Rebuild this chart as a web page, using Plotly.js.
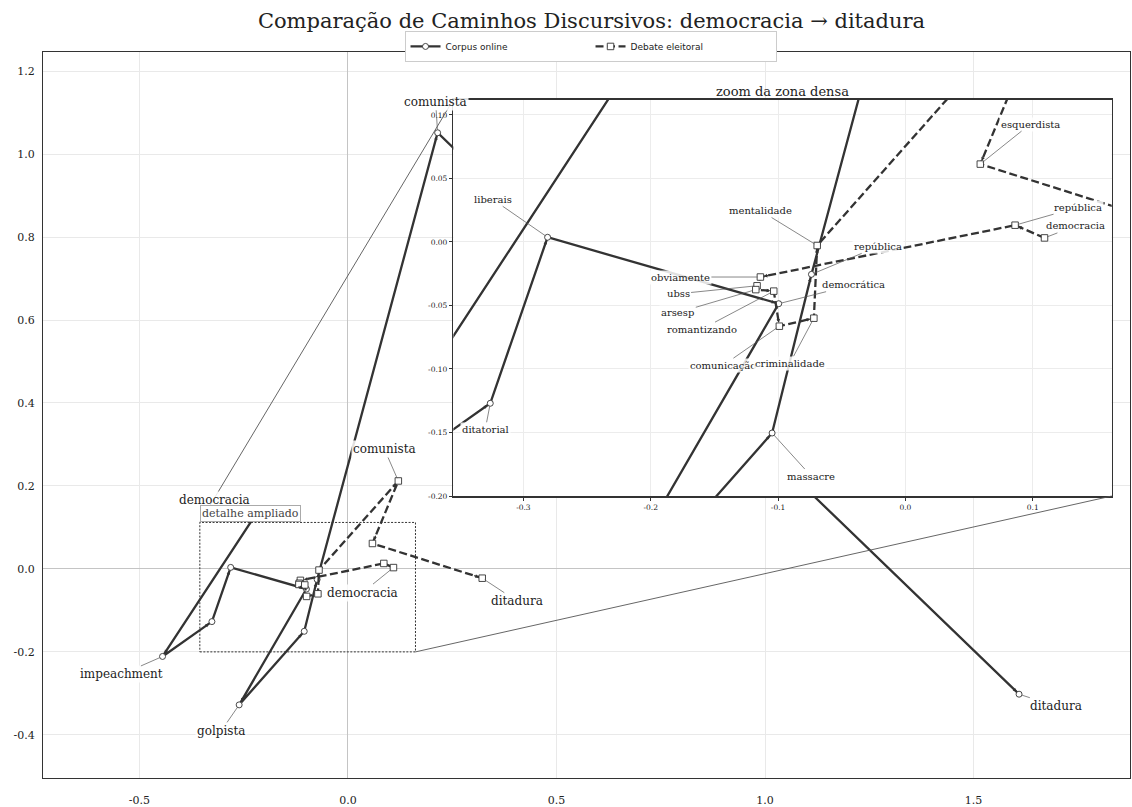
<!DOCTYPE html>
<html><head><meta charset="utf-8">
<script src="https://cdn.plot.ly/plotly-3.0.1.min.js"></script>
<style>html,body{margin:0;padding:0;background:#fff}</style>
</head><body><div id="chart" style="width:1132px;height:807px"></div>
<script>
// ---- data ----
const corpusLabels = ['democracia','impeachment','ditatorial','liberais','democrática','golpista','massacre','república','comunista','ditadura'];
const corpusX = [-0.2146,-0.4444,-0.3260,-0.2810,-0.0995,-0.2607,-0.1047,-0.0738,0.2151,1.6090];
const corpusY = [0.1410,-0.2110,-0.1270,0.0037,-0.0486,-0.3277,-0.1504,-0.0255,1.0513,-0.3020];

const debateLabels = ['democracia','república','obviamente','ubss','arsesp','romantizando','comunicação','criminalidade','mentalidade','comunista','esquerdista','ditadura'];
const debateX = [0.1092,0.0861,-0.1139,-0.1165,-0.1175,-0.1034,-0.0990,-0.0719,-0.0693,0.1209,0.0588,0.3220];
const debateY = [0.0032,0.0132,-0.0276,-0.0345,-0.0375,-0.0387,-0.0663,-0.0600,-0.0028,0.2120,0.0613,-0.0224];

const mainXTicks = [-0.5,0,0.5,1.0,1.5];
const mainXTickText = ['-0.5','0.0','0.5','1.0','1.5'];
const mainYTicks = [-0.4,-0.2,0,0.2,0.4,0.6,0.8,1.0,1.2];
const mainYTickText = ['-0.4','-0.2','0.0','0.2','0.4','0.6','0.8','1.0','1.2'];
const insetXTicks = [-0.3,-0.2,-0.1,0,0.1];
const insetXTickText = ['-0.3','-0.2','-0.1','0.0','0.1'];
const insetYTicks = [-0.20,-0.15,-0.10,-0.05,0,0.05,0.10];
const insetYTickText = ['-0.20','-0.15','-0.10','-0.05','0.00','0.05','0.10'];

// ---- layout / placement ----
const xr = [-0.731, 1.875], yr = [-0.504, 1.246];
const ixr = [-0.355, 0.162], iyr = [-0.200, 0.112];
const insetDomX = [0.3775, 0.9832], insetDomY = [0.3884, 0.9343];
const plotW = 1087, plotH = 726;

const corpusMainIdx = [0,1,5,8,9];
const corpusMainOff = [[-44,-10],[-41,18],[-18,26],[-2,-31],[37,12]];
const corpusInsetIdx = [2,3,4,6,7];
const corpusInsetOff = [[-5,26],[-55,-38],[75,-19],[39,43],[67,-28]];
const debateMainIdx = [0,9,11];
const debateMainOff = [[-31,25],[-14,-32],[35,23]];
const debateInsetIdx = [0,1,2,3,4,5,6,7,8,10];
const debateInsetOff = [[31,-12],[63,-18],[-80,0],[-79,8],[-78,23],[-72,38],[-56,39],[-24,45],[-57,-35],[50,-40]];

const dark = '#333333';
const serif = 'DejaVu Serif';

function series(xs, ys, name, dashed, xa, ya, showlegend) {
  return {
    x: xs, y: ys, name: name, xaxis: xa, yaxis: ya, showlegend: showlegend,
    type: 'scatter', mode: 'lines+markers', cliponaxis: true, hoverinfo: 'skip',
    line: {color: dark, width: 2.3, dash: dashed ? '8px,3.5px' : 'solid'},
    marker: {symbol: dashed ? 'square' : 'circle', size: dashed ? 6.5 : 6, color: 'white', line: {color: dark, width: 0.9}}
  };
}

const traces = [
  series(corpusX, corpusY, 'Corpus online', false, 'x', 'y', true),
  series(debateX, debateY, 'Debate eleitoral', true, 'x', 'y', true),
  series(corpusX, corpusY, 'Corpus online', false, 'x2', 'y2', false),
  series(debateX, debateY, 'Debate eleitoral', true, 'x2', 'y2', false)
];

function arrowAnns(xs, ys, xref, yref, xrange, yrange, wpx, hpx) {
  const out = [];
  const sx = wpx / (xrange[1] - xrange[0]), sy = hpx / (yrange[1] - yrange[0]);
  for (let i = 1; i < xs.length; i++) {
    const hx = xs[i], hy = ys[i];
    if (hx < xrange[0] || hx > xrange[1] || hy < yrange[0] || hy > yrange[1]) continue;
    const dx = (xs[i] - xs[i-1]) * sx, dy = -(ys[i] - ys[i-1]) * sy;
    const n = Math.hypot(dx, dy);
    if (n < 12) continue;
    const L = Math.min(10, n);
    out.push({xref: xref, yref: yref, x: hx, y: hy, ax: -dx / n * L, ay: -dy / n * L, text: '',
      showarrow: true, arrowhead: 2, arrowsize: 0.6, arrowwidth: 1.2, arrowcolor: dark, standoff: 3.5});
  }
  return out;
}

function labelAnns(labels, xs, ys, idx, off, xref, yref, size) {
  return idx.map((k, j) => ({
    xref: xref, yref: yref, x: xs[k], y: ys[k], ax: off[j][0], ay: off[j][1],
    text: labels[k], showarrow: true, arrowhead: 0, arrowwidth: 0.7, arrowcolor: '#555', standoff: 3,
    bgcolor: 'rgba(255,255,255,0.85)', borderpad: 1,
    font: {family: serif, size: size, color: '#222'}
  }));
}

const mainPxW = plotW, mainPxH = plotH;
const insetPxW = plotW * (insetDomX[1] - insetDomX[0]);
const insetPxH = plotH * (insetDomY[1] - insetDomY[0]);

const annotations = [].concat(
  arrowAnns(corpusX, corpusY, 'x', 'y', xr, yr, mainPxW, mainPxH),
  arrowAnns(debateX, debateY, 'x', 'y', xr, yr, mainPxW, mainPxH),
  arrowAnns(corpusX, corpusY, 'x2', 'y2', ixr, iyr, insetPxW, insetPxH),
  arrowAnns(debateX, debateY, 'x2', 'y2', ixr, iyr, insetPxW, insetPxH),
  labelAnns(corpusLabels, corpusX, corpusY, corpusMainIdx, corpusMainOff, 'x', 'y', 12),
  labelAnns(debateLabels, debateX, debateY, debateMainIdx, debateMainOff, 'x', 'y', 12),
  labelAnns(corpusLabels, corpusX, corpusY, corpusInsetIdx, corpusInsetOff, 'x2', 'y2', 10),
  labelAnns(debateLabels, debateX, debateY, debateInsetIdx, debateInsetOff, 'x2', 'y2', 10),
  [{
    xref: 'x', yref: 'y', x: ixr[0], y: iyr[1], xanchor: 'left', yanchor: 'bottom', showarrow: false,
    text: 'detalhe ampliado', bgcolor: 'white', bordercolor: '#aaa', borderwidth: 1, borderpad: 1,
    font: {family: serif, size: 11, color: '#444'}
  }, {
    xref: 'x2 domain', yref: 'y2 domain', x: 0.5, y: 1, xanchor: 'center', yanchor: 'bottom', showarrow: false,
    text: 'zoom da zona densa', font: {family: serif, size: 13, color: '#222'}, yshift: -1
  }]
);

const fx = v => (v - xr[0]) / (xr[1] - xr[0]);
const fy = v => (v - yr[0]) / (yr[1] - yr[0]);

const shapes = [
  {type: 'rect', xref: 'x', yref: 'y', x0: ixr[0], x1: ixr[1], y0: iyr[0], y1: iyr[1],
   line: {color: '#333', width: 1, dash: '2px,1.5px'}, fillcolor: 'rgba(0,0,0,0)'},
  {type: 'line', xref: 'paper', yref: 'paper', x0: fx(ixr[0]), y0: fy(iyr[1]), x1: insetDomX[0], y1: insetDomY[1],
   line: {color: '#555', width: 0.9}},
  {type: 'line', xref: 'paper', yref: 'paper', x0: fx(ixr[1]), y0: fy(iyr[0]), x1: insetDomX[1], y1: insetDomY[0],
   line: {color: '#555', width: 0.9}}
];

const layout = {
  width: 1132, height: 807,
  margin: {l: 43, r: 2, t: 52, b: 29},
  paper_bgcolor: 'white', plot_bgcolor: 'white',
  title: {text: 'Comparação de Caminhos Discursivos: democracia → ditadura', x: 0.5046, xanchor: 'center',
          xref: 'paper', y: 1 - 21 / 807, yanchor: 'middle', font: {family: serif, size: 21, color: '#222'}},
  showlegend: true,
  legend: {orientation: 'h', x: 0.5037, xanchor: 'center', y: 1.029, yanchor: 'top',
           bgcolor: 'white', bordercolor: '#ccc', borderwidth: 1,
           font: {family: 'DejaVu Sans', size: 9, color: '#222'},
           entrywidth: 140, entrywidthmode: 'pixels', itemwidth: 30},
  xaxis: {domain: [0, 1], range: xr, tickvals: mainXTicks, ticktext: mainXTickText, ticks: '',
          showgrid: true, gridcolor: '#e9e9e9', zeroline: true, zerolinecolor: '#c4c4c4', zerolinewidth: 1,
          showline: true, mirror: true, linecolor: dark, linewidth: 1, ticklabelstandoff: 12,
          tickfont: {family: serif, size: 11, color: '#222'}},
  yaxis: {domain: [0, 1], range: yr, tickvals: mainYTicks, ticktext: mainYTickText, ticks: '',
          showgrid: true, gridcolor: '#e9e9e9', zeroline: true, zerolinecolor: '#c4c4c4', zerolinewidth: 1,
          showline: true, mirror: true, linecolor: dark, linewidth: 1, ticklabelstandoff: 5,
          tickfont: {family: serif, size: 11, color: '#222'}},
  xaxis2: {domain: insetDomX, anchor: 'y2', range: ixr, tickvals: insetXTicks, ticktext: insetXTickText,
           ticks: 'outside', ticklen: 3, tickcolor: dark, tickwidth: 1,
           showgrid: true, gridcolor: '#ececec', zeroline: false,
           showline: true, mirror: true, linecolor: dark, linewidth: 1.5,
           tickfont: {family: serif, size: 7.5, color: '#222'}},
  yaxis2: {domain: insetDomY, anchor: 'x2', range: iyr, tickvals: insetYTicks, ticktext: insetYTickText,
           ticks: 'outside', ticklen: 3, tickcolor: dark, tickwidth: 1,
           showgrid: true, gridcolor: '#ececec', zeroline: false,
           showline: true, mirror: true, linecolor: dark, linewidth: 1.5,
           tickfont: {family: serif, size: 7.5, color: '#222'}},
  annotations: annotations,
  shapes: shapes
};

Plotly.newPlot('chart', traces, layout, {displayModeBar: false, staticPlot: true});
</script>
</body></html>
